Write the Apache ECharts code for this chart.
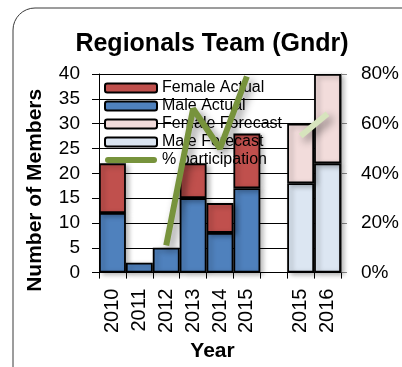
<!DOCTYPE html>
<html>
<head>
<meta charset="utf-8">
<script src="https://cdn.jsdelivr.net/npm/echarts@6/dist/echarts.min.js"></script>
<style>
  html, body { margin: 0; padding: 0; background: #ffffff; }
  #chart { width: 402px; height: 367px; }
</style>
</head>
<body>
<div id="chart"></div>
<script>
// Team members per year; the blank slot separates actual years from forecast years
const years = ['2010', '2011', '2012', '2013', '2014', '2015', '', '2015', '2016'];
const maleActual = [12, 2, 5, 15, 8, 17, null, null, null];
const femaleActual = [10, null, null, 7, 6, 11, null, null, null];
const maleForecast = [null, null, null, null, null, null, null, 18, 22];
const femaleForecast = [null, null, null, null, null, null, null, 12, 18];
// Share of members participating (right axis)
const participation = [null, null, 0.11, 0.66, 0.50, 0.79, null, null, null];
const participationForecast = [null, null, null, null, null, null, null, 0.55, 0.64];
// Axis ranges
const memberAxis = { min: 0, max: 40, step: 5 };
const percentAxis = { min: 0, max: 0.8, step: 0.2 };

const FONT = '"Liberation Sans", Arial, sans-serif';
const barShadow = {
  shadowColor: 'rgba(0,0,0,0.3)', shadowBlur: 5, shadowOffsetX: 3, shadowOffsetY: 2
};
const lineShadow = {
  shadowColor: 'rgba(0,0,0,0.45)', shadowBlur: 8, shadowOffsetX: 4, shadowOffsetY: 4
};

function barSeries(name, data, color) {
  return {
    name: name, type: 'bar', stack: 'members', data: data,
    barCategoryGap: '0%',
    itemStyle: Object.assign({ color: color, borderColor: '#000', borderWidth: 1.8 }, barShadow),
    emphasis: { disabled: true }
  };
}

// Participation lines sit above the legend and the bars
function lineSeries(name, data, color) {
  return {
    name: name, type: 'line', yAxisIndex: 1, data: data,
    symbol: 'none', connectNulls: false, z: 6,
    itemStyle: { color: color },
    lineStyle: Object.assign({ color: color, width: 6 }, lineShadow),
    emphasis: { disabled: true }
  };
}

const chart = echarts.init(document.getElementById('chart'), null, { renderer: 'canvas' });
chart.setOption({
  animation: false,
  backgroundColor: '#ffffff',
  textStyle: { fontFamily: FONT },
  title: {
    text: 'Regionals Team (Gndr)',
    left: 212, top: 32, textAlign: 'center', padding: 0,
    textStyle: { fontFamily: FONT, fontSize: 25, fontWeight: 'bold', color: '#000' }
  },
  graphic: [{
    type: 'rect', silent: true, z: -1,
    shape: { x: 13, y: 8, width: 440, height: 420, r: 22 },
    style: { fill: 'none', stroke: '#3a3a3a', lineWidth: 1 }
  }],
  legend: {
    orient: 'vertical', left: 104, top: 80, padding: 0, z: 4,
    itemWidth: 52, itemHeight: 9, itemGap: 2,
    textStyle: { fontFamily: FONT, fontSize: 16, color: '#000', lineHeight: 16 },
    data: [
      'Female Actual', 'Male Actual', 'Female Forecast', 'Male Forecast',
      { name: '% participation', icon: 'path://M3,0 L49,0 A3,3 0 0 1 49,6 L3,6 A3,3 0 0 1 3,0 Z' }
    ]
  },
  grid: { left: 99, right: 56, top: 74, bottom: 94, containLabel: false },
  xAxis: {
    type: 'category', data: years,
    name: 'Year', nameLocation: 'middle', nameGap: 66,
    nameTextStyle: { fontFamily: FONT, fontSize: 21, fontWeight: 'bold', color: '#000', padding: [0, 15, 0, 0] },
    axisLine: { lineStyle: { color: '#000', width: 1 } },
    axisTick: { show: true, length: 6, lineStyle: { color: '#000' } },
    axisLabel: { rotate: 90, margin: 16, interval: 0, fontFamily: FONT, fontSize: 20, color: '#000' }
  },
  yAxis: [{
    type: 'value', min: memberAxis.min, max: memberAxis.max, interval: memberAxis.step,
    name: 'Number of Members', nameLocation: 'middle', nameGap: 53,
    nameTextStyle: { fontFamily: FONT, fontSize: 21, fontWeight: 'bold', color: '#000', padding: [0, 34, 0, 0] },
    axisLine: { show: true, lineStyle: { color: '#000', width: 1 } },
    axisTick: { show: true, length: 7, lineStyle: { color: '#000' } },
    axisLabel: { margin: 19, fontFamily: FONT, fontSize: 19, color: '#000' },
    splitLine: { show: true, lineStyle: { color: '#000', width: 1 } }
  }, {
    type: 'value', min: percentAxis.min, max: percentAxis.max, interval: percentAxis.step,
    position: 'right',
    axisLine: { show: true, lineStyle: { color: '#8a8a8a', width: 1 } },
    axisTick: { show: true, length: 6, lineStyle: { color: '#8a8a8a' } },
    axisLabel: {
      margin: 20, fontFamily: FONT, fontSize: 19, color: '#000',
      formatter: function (v) { return Math.round(v * 100) + '%'; }
    },
    splitLine: { show: false }
  }],
  series: [
    barSeries('Male Actual', maleActual, '#4f81bd'),
    barSeries('Female Actual', femaleActual, '#c0504d'),
    barSeries('Male Forecast', maleForecast, '#dce6f2'),
    barSeries('Female Forecast', femaleForecast, '#f2dcdb'),
    lineSeries('% participation', participation, '#77933c'),
    lineSeries('% participation forecast', participationForecast, '#d7e4bd')
  ]
});
</script>
</body>
</html>
